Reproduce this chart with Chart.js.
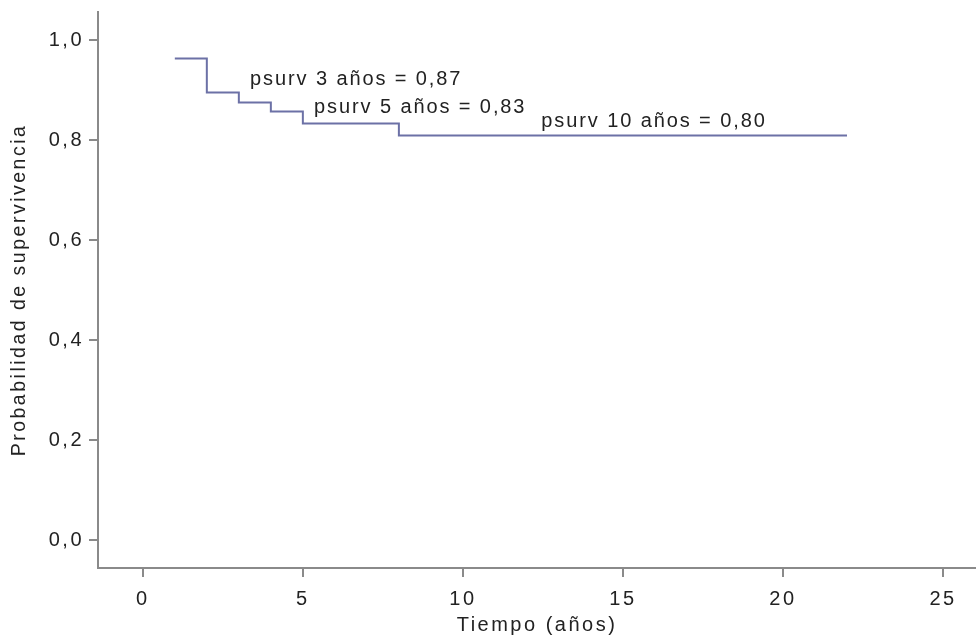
<!DOCTYPE html>
<html>
<head>
<meta charset="utf-8">
<script src="https://cdn.jsdelivr.net/npm/chart.js@4"></script>
<style>
  body { margin: 0; background: #fff; }
  #wrap { width: 976px; height: 639px; }
</style>
</head>
<body>
<div id="wrap"><canvas id="mychart"></canvas></div>
<script>
// Kaplan-Meier curve
const tiempo = [1, 2, 3, 4, 5, 8, 22];
const supervivencia = [0.963, 0.895, 0.875, 0.857, 0.833, 0.809, 0.809];

const xTicks = [0, 5, 10, 15, 20, 25];
const yTicks = [0, 0.2, 0.4, 0.6, 0.8, 1.0];

const etiquetas = ['psurv 3 años = 0,87', 'psurv 5 años = 0,83', 'psurv 10 años = 0,80'];

let puntos = tiempo.map((t, i) => ({ x: t, y: supervivencia[i] }));

const fuente = { family: 'Liberation Sans', size: 20 };
const gris = '#8a8a8a';

// wider spacing like the original picture
const espaciado = {
    id: 'espaciado',
    beforeDraw(chart) { chart.ctx.letterSpacing = '2.5px'; }
};

// draws the psurv texts next to the curve
const textos = {
    id: 'textos',
    afterDatasetsDraw(chart) {
        const ctx = chart.ctx;
        const xs = chart.scales.x, ys = chart.scales.y;
        // anchors in data units (left edge, vertical middle)
        const anclas = [[3.35, 0.922], [5.35, 0.866], [12.45, 0.838]];
        ctx.save();
        ctx.letterSpacing = '1.9px';
        ctx.font = '20px "Liberation Sans"';
        ctx.fillStyle = '#222';
        ctx.textAlign = 'left';
        ctx.textBaseline = 'middle';
        etiquetas.forEach((txt, i) => {
            ctx.fillText(txt, xs.getPixelForValue(anclas[i][0]), ys.getPixelForValue(anclas[i][1]));
        });
        ctx.restore();
    }
};

var ctx = document.getElementById('mychart').getContext('2d');
var chart = new Chart(ctx, {
    type: 'line',
    data: {
        datasets: [{
            data: puntos,
            stepped: 'before',
            borderColor: '#6c71a6',
            borderWidth: 2,
            pointRadius: 0,
            fill: false
        }]
    },
    options: {
        responsive: true,
        maintainAspectRatio: false,
        animation: false,
        layout: { padding: { top: 12, right: 0, left: 0, bottom: 0 } },
        plugins: { legend: { display: false }, tooltip: { enabled: false } },
        scales: {
            x: {
                type: 'linear',
                min: -1.4,
                max: 26.03,
                afterBuildTicks: s => { s.ticks = xTicks.map(v => ({ value: v })); },
                afterFit: s => { s.height = 71; s.paddingRight = 0; },
                grid: { drawOnChartArea: false, drawTicks: true, tickLength: 9, color: gris, lineWidth: 2 },
                border: { display: true, color: gris, width: 2 },
                ticks: { color: '#222', font: fuente, padding: 10, maxRotation: 0 },
                title: { display: true, text: 'Tiempo (años)', color: '#222', font: fuente, padding: { top: 0, bottom: 2 } }
            },
            y: {
                type: 'linear',
                min: -0.056,
                max: 1.056,
                afterBuildTicks: s => { s.ticks = yTicks.map(v => ({ value: v })); },
                afterFit: s => { s.width = 98; s.paddingTop = 0; s.paddingBottom = 0; },
                grid: { drawOnChartArea: false, drawTicks: true, tickLength: 9, color: gris, lineWidth: 2 },
                border: { display: true, color: gris, width: 2 },
                ticks: {
                    color: '#222',
                    font: fuente,
                    padding: 5,
                    callback: v => v.toFixed(1).replace('.', ',')
                },
                title: { display: true, text: 'Probabilidad de supervivencia', color: '#222', font: { family: 'Liberation Sans', size: 19.5 }, padding: { top: 8, bottom: 0 } }
            }
        }
    },
    plugins: [espaciado, textos]
});
</script>
</body>
</html>
